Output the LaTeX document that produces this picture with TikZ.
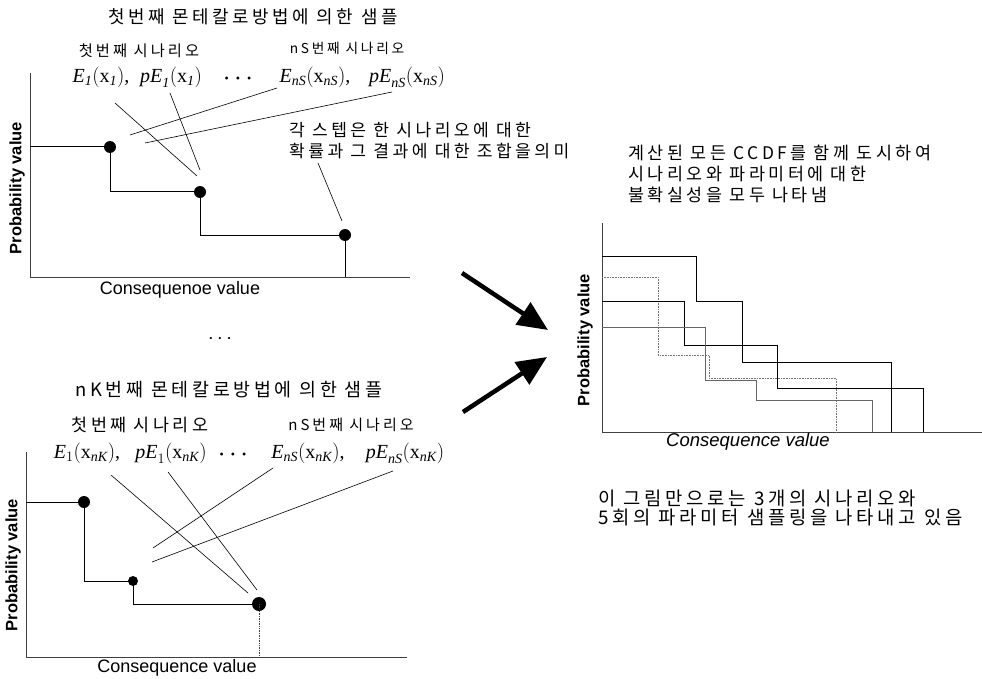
\documentclass[tikz,border=0pt]{standalone}
\usepackage{fontspec}
\setmainfont{Liberation Serif}
\newfontfamily\kr[LetterSpace=20]{Noto Sans CJK KR}
\newfontfamily\arial{Liberation Sans}
\usetikzlibrary{arrows.meta}
\begin{document}
\begin{tikzpicture}[x=1pt,y=-1pt,
  krtext/.style={inner sep=0pt,font=\kr\fontsize{#1}{#1}\selectfont},
  formula/.style={inner sep=0pt,font=\fontsize{20}{24}\selectfont},
  ylab/.style={inner sep=0pt,rotate=90,font=\arial\bfseries\fontsize{16.5}{18}\selectfont},
  xlab/.style={inner sep=0pt,font=\arial\fontsize{18}{20}\selectfont},
  axis/.style={black!75,line width=0.7pt},
  stepline/.style={line width=1pt},
  thin/.style={line width=0.6pt},
  dot/.style={circle,fill,inner sep=0pt,minimum size=#1},
  bigarrow/.style={line width=4.5pt,-{Triangle[length=30pt,width=26pt]}}]
\useasboundingbox (0,0) rectangle (982,679);
% first sample
\node[krtext=17.9] (title1) at (253,17) {첫번째 몬테칼로방법에 의한 샘플};
\node[krtext=15.3] (sc1) at (139,51) {첫번째 시나리오};
\node[krtext=13.7] (scn) at (347,48) {nS번째 시나리오};
\node[formula] (fe1) at (101,77) {$\mathit{E}_{\mathit{1}}\bigl(\mathrm{x}_{\mathit{1}}\bigr)$,};
\node[formula] (fpe1) at (171,77) {$\mathit{pE}_{\mathit{1}}\bigl(\mathrm{x}_{\mathit{1}}\bigr)$};
\node[inner sep=0pt,font=\fontsize{12}{12}\selectfont] (fdots) at (238,80) {\textbullet\hspace{7pt}\textbullet\hspace{7pt}\textbullet};
\node[formula] (fens) at (315,77) {$\mathit{E}_{\mathit{nS}}\bigl(\mathrm{x}_{\mathit{nS}}\bigr)$,};
\node[formula] (fpens) at (407,77) {$\mathit{pE}_{\mathit{nS}}\bigl(\mathrm{x}_{\mathit{nS}}\bigr)$};
\draw[axis] (30,73) -- (30,277) -- (410,277);
\node[ylab] (py1) at (17,188) {Probability value};
\node[xlab] (cx1) at (180,290) {Consequenoe value};
\node[dot=12pt] (d11) at (110,147) {};
\node[dot=12pt] (d12) at (200,192) {};
\node[dot=12pt] (d13) at (345,235) {};
\draw[stepline] (30,147) -- (d11.center) -- (110,192) -- (d12.center) -- (200,235) -- (d13.center) -- (345,277);
\coordinate (a1) at (115,103); \coordinate (b1) at (197,176);
\coordinate (a2) at (170,93);  \coordinate (b2) at (200,170);
\coordinate (a3) at (277,88);  \coordinate (b3) at (130,135);
\coordinate (a4) at (392,92);  \coordinate (b4) at (145,143);
\foreach \i in {1,...,4} \draw[thin] (a\i) -- (b\i);
\node[krtext=17.1,align=left,anchor=west] (note1) at (289,141) {각 스텝은 한 시나리오에 대한\\[4pt]확률과 그 결과에 대한 조합을의미};
\coordinate (a5) at (318,163);
\draw[thin] (a5) -- (342,221);
\node[inner sep=0pt,font=\fontsize{9}{9}\selectfont] (mdots) at (220,339) {\textbullet\hspace{6pt}\textbullet\hspace{6pt}\textbullet};
% nK-th sample
\node[krtext=18.4] (title2) at (229,390) {nK번째 몬테칼로방법에 의한 샘플};
\node[krtext=17.4] (sc2) at (140,425) {첫번째 시나리오};
\node[krtext=15] (scn2) at (351,425) {nS번째 시나리오};
\node[formula] (ge1) at (87,453) {$\mathit{E}_{1}\bigl(\mathrm{x}_{\mathit{nK}}\bigr)$,};
\node[formula] (gpe1) at (171,453) {$\mathit{pE}_{1}\bigl(\mathrm{x}_{\mathit{nK}}\bigr)$};
\node[inner sep=0pt,font=\fontsize{12}{12}\selectfont] (gdots) at (233,456) {\textbullet\hspace{7pt}\textbullet\hspace{7pt}\textbullet};
\node[formula] (gens) at (308,453) {$\mathit{E}_{\mathit{nS}}\bigl(\mathrm{x}_{\mathit{nK}}\bigr)$,};
\node[formula] (gpens) at (405,453) {$\mathit{pE}_{\mathit{nS}}\bigl(\mathrm{x}_{\mathit{nK}}\bigr)$};
\draw[axis] (26,452) -- (26,657) -- (407,657);
\node[ylab] (py2) at (13,565) {Probability value};
\node[xlab] (cx2) at (177,668) {Consequence value};
\node[dot=12pt] (d21) at (84,502) {};
\node[dot=10pt] (d22) at (133,581) {};
\node[dot=14pt] (d23) at (259,604) {};
\draw[stepline] (26,502) -- (d21.center) -- (84,581) -- (d22.center) -- (133,604) -- (d23.center);
\draw[axis,densely dotted] (d23.center) -- (259,657);
\coordinate (c1) at (111,475); \coordinate (e1) at (248,593);
\coordinate (c2) at (168,472); \coordinate (e2) at (257,590);
\coordinate (c3) at (273,468); \coordinate (e3) at (153,548);
\coordinate (c4) at (393,471); \coordinate (e4) at (152,562);
\foreach \i in {1,...,4} \draw[thin] (c\i) -- (e\i);
% arrows
\coordinate (s1) at (462,273); \coordinate (t1) at (548,330);
\coordinate (s2) at (463,412); \coordinate (t2) at (547,357);
\draw[bigarrow] (s1) -- (t1);
\draw[bigarrow] (s2) -- (t2);
% all CCDFs
\node[krtext=17.4,align=left,anchor=west] (note2) at (628,174) {계산된 모든 CCDF를 함께 도시하여\\[3.5pt]시나리오와 파라미터에 대한\\[3.5pt]불확실성을 모두 나타냄};
\draw[axis] (602,223) -- (602,432) -- (982,432);
\node[ylab] (py3) at (585,340) {Probability value};
\node[xlab,font=\arial\itshape\fontsize{18.5}{20}\selectfont] (cx3) at (748,442) {Consequence value};
\draw[thin] (602,256) -- (696,256) -- (696,301) -- (742,301) -- (742,362) -- (891,362) -- (891,432);
\draw[thin,black!55,densely dotted] (602,277) -- (658,277) -- (658,355) -- (709,355) -- (709,378) -- (836,378) -- (836,432);
\draw[line width=0.5pt] (602,301) -- (684,301) -- (684,345) -- (777,345) -- (777,388) -- (923,388) -- (923,432);
\draw[line width=0.5pt,black!60] (602,327) -- (705,327) -- (705,380) -- (756,380) -- (756,400) -- (872,400) -- (872,432);
\node[krtext=18.8,align=left,anchor=west] (note3) at (598,508) {이 그림만으로는 3개의 시나리오와\\[1pt]5회의 파라미터 샘플링을 나타내고 있음};
\end{tikzpicture}
\end{document}
